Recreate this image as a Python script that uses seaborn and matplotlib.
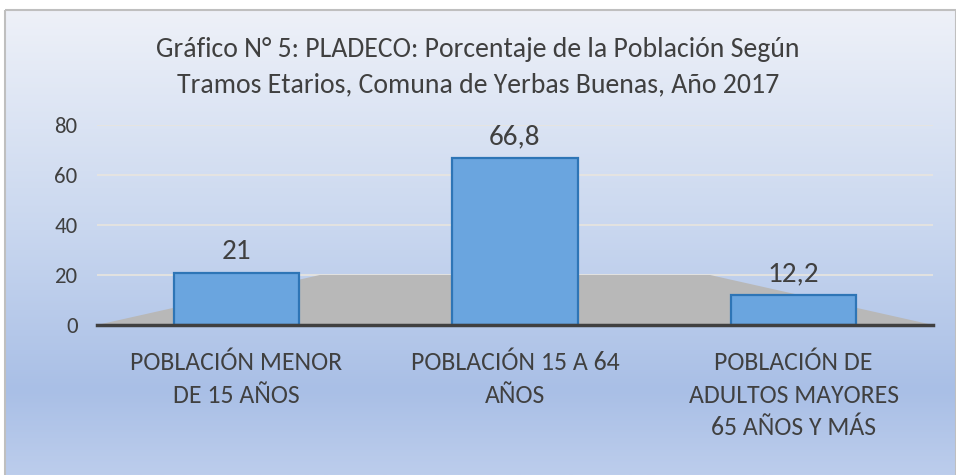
import numpy as np
import pandas as pd
import matplotlib
matplotlib.use("Agg")
import matplotlib.pyplot as plt
from matplotlib.patches import Rectangle, Polygon
import seaborn as sns

categories = ["POBLACIÓN MENOR\nDE 15 AÑOS", "POBLACIÓN 15 A 64\nAÑOS",
              "POBLACIÓN DE\nADULTOS MAYORES\n65 AÑOS Y MÁS"]
values = [21.0, 66.8, 12.2]
yticks = [0, 20, 40, 60, 80]
title = "Gráfico N° 5: PLADECO: Porcentaje de la Población Según\nTramos Etarios, Comuna de Yerbas Buenas, Año 2017"

df = pd.DataFrame({"cat": categories, "val": values})

sns.set_theme(style="white")
plt.rcParams["font.family"] = ["Carlito", "Liberation Sans", "DejaVu Sans"]
TXT = "#404040"

W, H = 956, 475
fig = plt.figure(figsize=(W / 100, H / 100), dpi=100)

# background with gradient
bg = fig.add_axes([0, 0, 1, 1])
bg.set_xlim(0, W)
bg.set_ylim(H, 0)
bg.axis("off")
stops_y = np.array([10, 230, 390, 475])
stops_c = np.array([[0xee, 0xf1, 0xf8], [0xc9, 0xd7, 0xef], [0xa9, 0xbf, 0xe6], [0xbc, 0xcd, 0xec]]) / 255
ys = np.linspace(10, 475, 300)
grad = np.stack([np.interp(ys, stops_y, stops_c[:, k]) for k in range(3)], axis=-1)[:, None, :]
bg.imshow(grad, extent=(5, W, 475, 10), aspect="auto", zorder=0)
bg.add_patch(Rectangle((5, 10), W - 5, 470, fill=False, edgecolor="#bfbfbf", lw=1.5, zorder=1))

# main axes
ax = fig.add_axes([97 / W, (H - 325) / H, (933 - 97) / W, 200 / H])
ax.patch.set_alpha(0)
sns.barplot(data=df, x="cat", y="val", ax=ax, color="#6aa5df", saturation=1,
            edgecolor="#2e75b6", linewidth=1.6, width=0.45, zorder=3)
ax.set_xlim(-0.5, 2.5)
ax.set_ylim(0, 80)
ax.set_yticks(yticks)
ax.set_yticklabels([str(t) for t in yticks])
for t in yticks[1:]:
    ax.axhline(t, color="#e8e5de", lw=1.2, zorder=1)

# floor plane (decorative)
ax.add_patch(Polygon([(-0.5, 0), (0.3, 20), (1.7, 20), (2.5, 0)], closed=True,
                     facecolor="#b8b8b8", edgecolor="none", zorder=2))

ax.bar_label(ax.containers[0], labels=[f"{v:g}".replace(".", ",") for v in values],
             padding=6, fontsize=21, color=TXT)

for s in ["top", "right", "left"]:
    ax.spines[s].set_visible(False)
ax.spines["bottom"].set_color("#404040")
ax.spines["bottom"].set_linewidth(2.5)
ax.spines["bottom"].set_zorder(4)
ax.set_xlabel("")
ax.set_ylabel("")
ax.tick_params(axis="y", length=0, pad=14, labelsize=16.5, labelcolor=TXT)
ax.tick_params(axis="x", length=0, pad=19, labelsize=18.5, labelcolor=TXT)
for lab in ax.get_xticklabels():
    lab.set_linespacing(1.5)
    lab.set_verticalalignment("top")

fig.text(478 / W, 1 - 67 / H, title, ha="center", va="center", fontsize=20,
         color=TXT, linespacing=1.52)

fig.savefig("out.png", dpi=100)
